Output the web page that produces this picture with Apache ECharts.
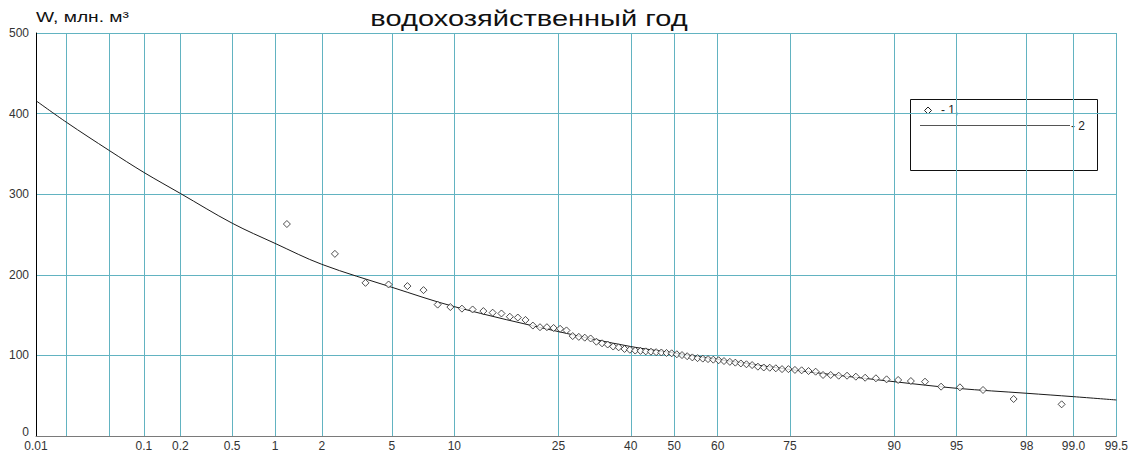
<!DOCTYPE html>
<html>
<head>
<meta charset="utf-8">
<script src="https://cdn.jsdelivr.net/npm/echarts@6/dist/echarts.min.js"></script>
<style>
  html, body { margin: 0; padding: 0; background: #fff; }
  #main { width: 1131px; height: 454px; }
</style>
</head>
<body>
<div id="main"></div>
<script>
// обеспеченность, % (шкала вероятностей)
const tickProbs = [0.01, 0.02, 0.05, 0.1, 0.2, 0.5, 1, 2, 5, 10, 25, 40, 50, 60, 75, 90, 95, 98, 99, 99.5]
const labelProbs = [0.01, 0.1, 0.2, 0.5, 1, 2, 5, 10, 25, 40, 50, 60, 75, 90, 95, 98, 99, 99.5]
const labelTexts = ['0.01', '0.1', '0.2', '0.5', '1', '2', '5', '10', '25', '40', '50', '60', '75', '90', '95', '98', '99.0', '99.5']
const yTicks = [0, 100, 200, 300, 400, 500]

// 1 - эмпирические точки
const pointProbs = [
  1.2, 2.4, 3.6, 4.8, 6.0, 7.2, 8.4, 9.6, 10.8, 12.0,
  13.3, 14.5, 15.7, 16.9, 18.1, 19.3, 20.5, 21.7, 22.9, 24.1,
  25.3, 26.5, 27.7, 28.9, 30.1, 31.3, 32.5, 33.7, 34.9, 36.1,
  37.3, 38.6, 39.8, 41.0, 42.2, 43.4, 44.6, 45.8, 47.0, 48.2,
  49.4, 50.6, 51.8, 53.0, 54.2, 55.4, 56.6, 57.8, 59.0, 60.2,
  61.4, 62.7, 63.9, 65.1, 66.3, 67.5, 68.7, 69.9, 71.1, 72.3,
  73.5, 74.7, 75.9, 77.1, 78.3, 79.5, 80.7, 81.9, 83.1, 84.3,
  85.5, 86.7, 88.0, 89.2, 90.4, 91.6, 92.8, 94.0, 95.2, 96.4,
  97.6, 98.8
]
const pointW = [
  263, 226, 190, 188, 186, 181, 163, 160, 158, 157,
  155, 153, 152, 148, 147, 144, 137, 135, 135, 134,
  133, 131, 124, 123, 122, 121, 117, 115, 113.5, 111,
  110, 108, 107, 106, 105.6, 105, 104.6, 104, 103.6, 103,
  102.6, 101.4, 100.4, 99, 97.5, 96.6, 96, 95.4, 94.7, 94,
  93, 92, 91, 90, 89, 88, 86, 85, 84.7, 84,
  83, 83, 82, 81.5, 80.6, 79.8, 75.7, 75.7, 74.8, 74.8,
  73.6, 72.3, 71.6, 70.3, 69.5, 68.2, 67.4, 61.2, 60.4, 57.1,
  45.9, 39.3
]

// 2 - аналитическая кривая
const curveProbs = [0.01, 0.02, 0.05, 0.1, 0.2, 0.5, 1, 2, 5, 10, 25, 40, 50, 60, 75, 90, 95, 98, 99, 99.5]
const curveW = [416, 389, 354, 327, 301, 264, 239, 213, 184.5, 160.5, 129.5, 111, 103, 95, 82.5, 67.4, 59.2, 53, 48.8, 44.7]

// обратная функция нормального распределения (Acklam)
function probit(p) {
  const a = [-3.969683028665376e+01, 2.209460984245205e+02, -2.759285104469687e+02, 1.383577518672690e+02, -3.066479806614716e+01, 2.506628277459239e+00]
  const b = [-5.447609879822406e+01, 1.615858368580409e+02, -1.556989798598866e+02, 6.680131188771972e+01, -1.328068155288572e+01]
  const c = [-7.784894002430293e-03, -3.223964580411365e-01, -2.400758277161838e+00, -2.549732539343734e+00, 4.374664141464968e+00, 2.938163982698783e+00]
  const d = [7.784695709041462e-03, 3.224671290700398e-01, 2.445134137142996e+00, 3.754408661907416e+00]
  const plow = 0.02425
  let q, r
  if (p < plow) {
    q = Math.sqrt(-2 * Math.log(p))
    return (((((c[0] * q + c[1]) * q + c[2]) * q + c[3]) * q + c[4]) * q + c[5]) / ((((d[0] * q + d[1]) * q + d[2]) * q + d[3]) * q + 1)
  }
  if (p > 1 - plow) {
    q = Math.sqrt(-2 * Math.log(1 - p))
    return -(((((c[0] * q + c[1]) * q + c[2]) * q + c[3]) * q + c[4]) * q + c[5]) / ((((d[0] * q + d[1]) * q + d[2]) * q + d[3]) * q + 1)
  }
  q = p - 0.5
  r = q * q
  return (((((a[0] * r + a[1]) * r + a[2]) * r + a[3]) * r + a[4]) * r + a[5]) * q / (((((b[0] * r + b[1]) * r + b[2]) * r + b[3]) * r + b[4]) * r + 1)
}
const z = pct => probit(pct / 100)

const gridColor = '#62b3c1'
const font = '"Liberation Sans", Arial, sans-serif'

const chart = echarts.init(document.getElementById('main'), null, { renderer: 'svg' })

chart.setOption({
  animation: false,
  grid: { left: 36, right: 12, top: 33, bottom: 18, containLabel: false },
  xAxis: {
    type: 'value',
    min: z(0.01),
    max: z(99.5),
    axisLine: { onZero: false, lineStyle: { color: '#7a7a7a', width: 1 } },
    axisTick: { show: false, customValues: tickProbs.map(z) },
    splitLine: { show: true, lineStyle: { color: gridColor, width: 1 } },
    axisLabel: {
      customValues: labelProbs.map(z),
      showMinLabel: true,
      showMaxLabel: true,
      margin: 4,
      fontSize: 12,
      fontFamily: font,
      color: '#333',
      formatter: v => {
        const i = labelProbs.findIndex(p => Math.abs(z(p) - v) < 1e-6)
        return i >= 0 ? labelTexts[i] : ''
      }
    }
  },
  yAxis: {
    type: 'value',
    min: 0,
    max: 500,
    interval: 100,
    axisLine: { show: true, onZero: false, lineStyle: { color: '#000', width: 1 } },
    axisTick: { show: false },
    splitLine: { show: true, lineStyle: { color: gridColor, width: 1, opacity: 1 } },
    axisLabel: {
      margin: 7,
      fontSize: 12,
      fontFamily: font,
      color: '#333',
      formatter: v => {
        if (!yTicks.includes(v)) return ''
        return v === 0 ? '{low|0}' : String(v)
      },
      rich: {
        low: { fontSize: 12, fontFamily: font, color: '#333', padding: [0, 0, 8, 0] }
      }
    }
  },
  series: [
    {
      name: '2',
      type: 'line',
      data: curveProbs.map((p, i) => [z(p), curveW[i]]),
      smooth: 0.35,
      showSymbol: false,
      lineStyle: { color: '#1a1a1a', width: 1 },
      z: 3
    },
    {
      name: '1',
      type: 'scatter',
      data: pointProbs.map((p, i) => [z(p), pointW[i]]),
      symbol: 'diamond',
      symbolSize: [7, 7],
      itemStyle: { color: '#fff', borderColor: '#222', borderWidth: 1 },
      z: 4
    }
  ],
  graphic: [
    {
      type: 'text',
      x: 529,
      y: 18,
      scaleX: 1.32,
      style: {
        text: 'водохозяйственный год',
        x: 0, y: 0,
        align: 'center', verticalAlign: 'middle',
        font: 'normal 22px ' + font,
        fill: '#111'
      }
    },
    {
      type: 'text',
      x: 36,
      y: 17,
      scaleX: 1.28,
      style: {
        text: 'W, млн. м³',
        x: 0, y: 0,
        align: 'left', verticalAlign: 'middle',
        font: 'normal 15px ' + font,
        fill: '#111'
      }
    },
    {
      type: 'group',
      z: 10,
      children: [
        {
          type: 'rect',
          shape: { x: 910.5, y: 99.5, width: 187, height: 71 },
          style: { fill: '#fff', stroke: '#111', lineWidth: 1 }
        },
        {
          type: 'polygon',
          shape: { points: [[928, 107], [931.5, 110.5], [928, 114], [924.5, 110.5]] },
          style: { fill: '#fff', stroke: '#222', lineWidth: 1 }
        },
        {
          type: 'text',
          style: { text: '- 1,', x: 941, y: 110, verticalAlign: 'middle', font: 'normal 12px ' + font, fill: '#222' }
        },
        {
          type: 'line',
          shape: { x1: 920, y1: 125.5, x2: 1070, y2: 125.5 },
          style: { stroke: '#555', lineWidth: 1 }
        },
        {
          type: 'text',
          style: { text: '- 2', x: 1071, y: 126, verticalAlign: 'middle', font: 'normal 12px ' + font, fill: '#222' }
        }
      ]
    }
  ]
})
</script>
</body>
</html>
